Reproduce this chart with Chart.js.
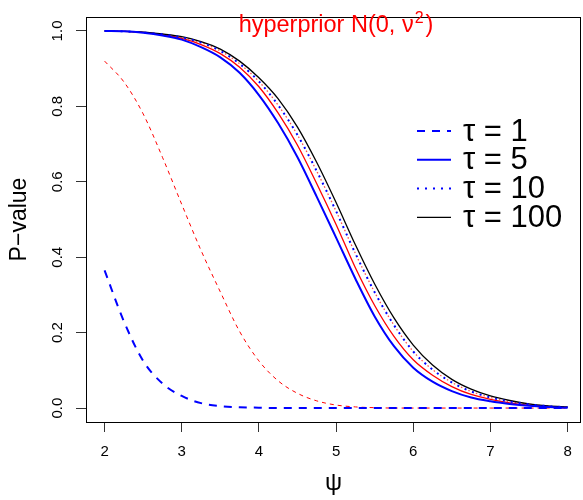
<!DOCTYPE html>
<html>
<head>
<meta charset="utf-8">
<script src="https://cdn.jsdelivr.net/npm/chart.js@4.4.0/dist/chart.umd.min.js"></script>
<style>
html, body { margin: 0; padding: 0; background: #fff; }
canvas { display: block; }
</style>
</head>
<body>
<canvas id="myChart" width="583" height="500"></canvas>
<script>
// psi grid the curves were read at
var psi = [2, 2.25, 2.5, 2.75, 3, 3.25, 3.5, 3.75, 4, 4.25, 4.5, 4.75, 5,
           5.25, 5.5, 5.75, 6, 6.25, 6.5, 6.75, 7, 7.25, 7.5, 7.75, 8]

// blue curves (legend)
var tau1 = [0.365, 0.23, 0.125, 0.065, 0.032, 0.013, 0.005, 0.002, 0.001, 0, 0, 0, 0,
            0, 0, 0, 0, 0, 0, 0, 0, 0, 0, 0, 0]
var tau5 = [1.000, 0.999, 0.995, 0.988, 0.977, 0.957, 0.930, 0.889, 0.830, 0.755, 0.665, 0.560, 0.452,
            0.343, 0.243, 0.164, 0.107, 0.070, 0.045, 0.028, 0.018, 0.011, 0.006, 0.003, 0.001]
var tau10 = [1.000, 0.999, 0.996, 0.991, 0.983, 0.969, 0.947, 0.913, 0.866, 0.803, 0.724, 0.628, 0.522,
             0.410, 0.307, 0.220, 0.150, 0.102, 0.068, 0.044, 0.028, 0.017, 0.010, 0.005, 0.002]
var tau100 = [1.000, 0.999, 0.997, 0.992, 0.985, 0.972, 0.952, 0.920, 0.876, 0.820, 0.745, 0.651, 0.545,
              0.433, 0.329, 0.239, 0.167, 0.114, 0.076, 0.050, 0.032, 0.020, 0.011, 0.006, 0.003]

// red curves (hyperprior)
var hyp1 = [0.92, 0.865, 0.78, 0.665, 0.54, 0.418, 0.308, 0.203, 0.125, 0.072, 0.039, 0.019, 0.008,
            0.003, 0.001, 0, 0, 0, 0, 0, 0, 0, 0, 0, 0]
var hyp5 = [1.000, 0.999, 0.996, 0.990, 0.980, 0.964, 0.940, 0.904, 0.852, 0.782, 0.697, 0.595, 0.487,
            0.372, 0.272, 0.190, 0.128, 0.087, 0.057, 0.036, 0.023, 0.014, 0.008, 0.004, 0.002]
var hyp10 = [1.000, 0.999, 0.996, 0.991, 0.983, 0.969, 0.947, 0.913, 0.866, 0.803, 0.724, 0.628, 0.522,
             0.410, 0.307, 0.220, 0.150, 0.102, 0.068, 0.044, 0.028, 0.017, 0.010, 0.005, 0.002]

var xTicks = [2, 3, 4, 5, 6, 7, 8]
var yTicks = [0, 0.2, 0.4, 0.6, 0.8, 1.0]
var legendLabels = ['\u03c4 = 1', '\u03c4 = 5', '\u03c4 = 10', '\u03c4 = 100']

var FONT = "'Liberation Sans', Arial, sans-serif"

function pts(ys) {
    return psi.map(function(x, i){ return {x: x, y: ys[i]} })
}

function line(label, ys, color, width, dash, offset) {
    return {
        label: label,
        data: pts(ys),
        borderColor: color,
        borderWidth: width,
        borderDash: dash,
        borderDashOffset: offset || 0,
        pointRadius: 0,
        fill: false,
        cubicInterpolationMode: 'monotone'
    }
}

// frame, title and legend
var extras = {
    id: 'extras',
    afterDraw: function(chart) {
        var ctx = chart.ctx
        var a = chart.chartArea
        ctx.save()
        ctx.strokeStyle = '#000'
        ctx.lineWidth = 1
        ctx.setLineDash([])
        ctx.strokeRect(Math.round(a.left) + 0.5, Math.round(a.top) + 0.5,
                       Math.round(a.right - a.left) - 1, Math.round(a.bottom - a.top))

        // title
        ctx.fillStyle = '#ff0000'
        ctx.textBaseline = 'alphabetic'
        ctx.textAlign = 'left'
        var big = '23.5px ' + FONT, small = '16px ' + FONT
        ctx.font = big
        var t1 = 'hyperprior N(0, \u03bd'
        var w1 = ctx.measureText(t1).width
        var w3 = ctx.measureText(')').width
        ctx.font = small
        var w2 = ctx.measureText('2').width
        var x0 = 336 - (w1 + w2 + w3 + 3) / 2
        ctx.font = big
        ctx.fillText(t1, x0, 32)
        ctx.font = small
        ctx.fillText('2', x0 + w1 + 1, 23)
        ctx.font = big
        ctx.fillText(')', x0 + w1 + w2 + 3, 32)

        // legend
        ctx.font = '31px ' + FONT
        ctx.textBaseline = 'middle'
        var ds = chart.data.datasets.slice(0, 4)
        ds.forEach(function(d, i){
            var y = 131 + i * 28.8
            ctx.strokeStyle = d.borderColor
            ctx.lineWidth = d.borderWidth
            ctx.setLineDash(d.borderDash)
            ctx.beginPath()
            ctx.moveTo(417, y)
            ctx.lineTo(451, y)
            ctx.stroke()
            ctx.setLineDash([])
            ctx.fillStyle = '#000'
            ctx.fillText(legendLabels[i], 463, y + 1)
        })
        ctx.restore()
    }
}

var myChart = document.getElementById('myChart').getContext('2d')
var chart = new Chart(myChart, {
    type: 'line',
    data: {
        datasets: [
            line(legendLabels[0], tau1, '#0000ff', 2, [8, 7]),
            line(legendLabels[1], tau5, '#0000ff', 2, []),
            line(legendLabels[2], tau10, '#0000ff', 2, [2, 6]),
            line(legendLabels[3], tau100, '#000000', 1.3, []),
            line('hyper 1', hyp1, '#ff0000', 1, [4, 4]),
            line('hyper 5', hyp5, '#ff0000', 1.3, []),
            line('hyper 10', hyp10, '#ff5050', 1.3, [1.5, 6.5], 4)
        ]
    },
    options: {
        responsive: false,
        animation: false,
        devicePixelRatio: 1,
        layout: { padding: { top: 8, right: 2, left: 0, bottom: 0 } },
        plugins: {
            legend: { display: false },
            tooltip: { enabled: false }
        },
        scales: {
            x: {
                type: 'linear',
                min: 1.759,
                max: 8.174,
                afterBuildTicks: function(s){ s.ticks = xTicks.map(function(v){ return {value: v} }) },
                afterFit: function(s){ s.height = 78 },
                border: { display: false },
                grid: { drawOnChartArea: false, drawTicks: true, tickLength: 10, color: '#333', tickWidth: 1 },
                ticks: {
                    color: '#000',
                    padding: 11,
                    maxRotation: 0,
                    font: { family: FONT, size: 15 },
                    callback: function(v){ return String(v) }
                },
                title: {
                    display: true,
                    text: '\u03c8',
                    color: '#000',
                    font: { family: FONT, size: 24 },
                    padding: { top: 0, bottom: 2 }
                }
            },
            y: {
                type: 'linear',
                min: -0.037,
                max: 1.037,
                afterBuildTicks: function(s){ s.ticks = yTicks.map(function(v){ return {value: v} }) },
                afterFit: function(s){ s.width = 86 },
                border: { display: false },
                grid: { drawOnChartArea: false, drawTicks: true, tickLength: 10, color: '#333', tickWidth: 1 },
                ticks: {
                    color: '#000',
                    padding: 8,
                    minRotation: 90,
                    maxRotation: 90,
                    crossAlign: 'center',
                    font: { family: FONT, size: 15 },
                    callback: function(v){ return v.toFixed(1) }
                },
                title: {
                    display: true,
                    text: 'P\u2212value',
                    color: '#000',
                    font: { family: FONT, size: 23 },
                    padding: { top: 6, bottom: 0 }
                }
            }
        }
    },
    plugins: [extras]
})
</script>
</body>
</html>
